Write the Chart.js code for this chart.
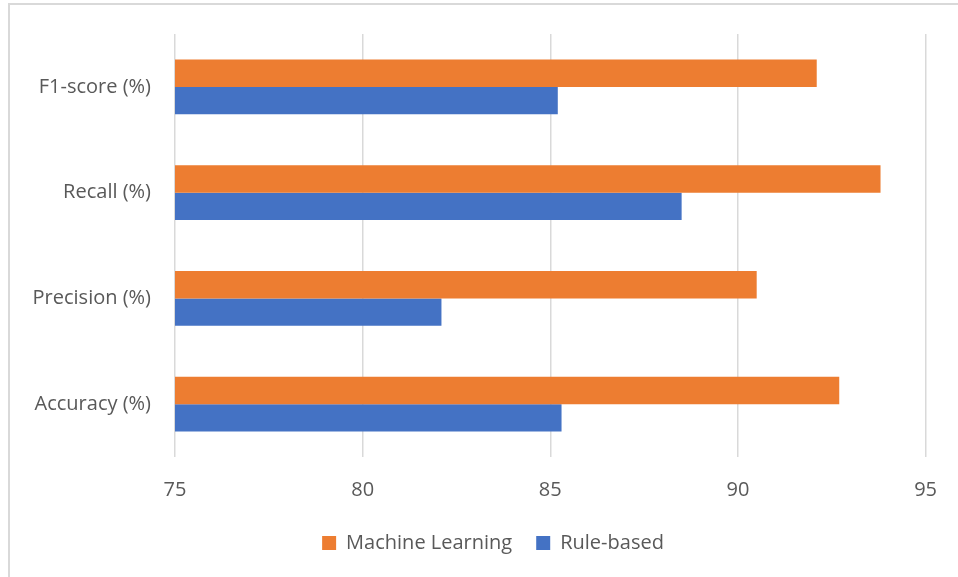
<!DOCTYPE html>
<html>
<head>
<meta charset="utf-8">
<script src="https://cdn.jsdelivr.net/npm/chart.js@4"></script>
<style>
  html, body { margin: 0; padding: 0; background: #fff; }
  #wrap { position: relative; width: 958px; height: 577px; overflow: hidden; }
  #frame { position: absolute; left: 8px; top: 3px; right: -10px; bottom: -10px;
           border-left: 2px solid #d9d9d9; border-top: 2px solid #d9d9d9; pointer-events: none; }
  canvas { position: absolute; left: 0; top: 0; }
</style>
</head>
<body>
<div id="wrap">
  <canvas id="metricsChart" width="958" height="577"></canvas>
  <div id="frame"></div>
</div>
<script>
// categories and values
const metrics = ['F1-score (%)', 'Recall (%)', 'Precision (%)', 'Accuracy (%)'];
const machineLearning = [92.1, 93.8, 90.5, 92.7];
const ruleBased = [85.2, 88.5, 82.1, 85.3];
const xTicks = [75, 80, 85, 90, 95];

const textColor = '#595959';
const gridColor = '#d9d9d9';
const fontFamily = "'Open Sans', 'Noto Sans', sans-serif";

// legend in the original is centred a bit right of the canvas middle
const shiftLegend = {
  id: 'shiftLegend',
  afterLayout: chart => { chart.legend.left = 58; }
};

document.addEventListener('DOMContentLoaded', () => {
  const canvas = document.getElementById('metricsChart');

  new Chart(canvas, {
    type: 'bar',
    data: {
      labels: metrics,
      datasets: [{
        label: 'Machine Learning',
        data: machineLearning,
        backgroundColor: '#ed7d31',
        categoryPercentage: 0.52,
        barPercentage: 1.0
      }, {
        label: 'Rule-based',
        data: ruleBased,
        backgroundColor: '#4472c4',
        categoryPercentage: 0.52,
        barPercentage: 1.0
      }]
    },
    plugins: [shiftLegend],
    options: {
      indexAxis: 'y',
      responsive: false,
      animation: false,
      layout: {
        padding: { top: 34, left: 0, right: 30, bottom: 14 }
      },
      plugins: {
        tooltip: { enabled: false },
        legend: {
          position: 'bottom',
          labels: {
            color: textColor,
            font: { family: fontFamily, size: 20 },
            boxWidth: 14,
            boxHeight: 14,
            padding: 24
          }
        }
      },
      scales: {
        x: {
          min: xTicks[0],
          max: xTicks[xTicks.length - 1],
          afterBuildTicks: axis => { axis.ticks = xTicks.map(v => ({ value: v })); },
          afterFit: axis => { axis.height = 52; },
          ticks: {
            color: textColor,
            font: { family: fontFamily, size: 20 },
            padding: 21
          },
          grid: { color: gridColor, lineWidth: 1.5, drawTicks: false },
          border: { display: false }
        },
        y: {
          afterFit: axis => { axis.width = 175; },
          ticks: {
            color: textColor,
            font: { family: fontFamily, size: 20 },
            padding: 16
          },
          grid: { display: false },
          border: { display: false }
        }
      }
    }
  });
});
</script>
</body>
</html>
